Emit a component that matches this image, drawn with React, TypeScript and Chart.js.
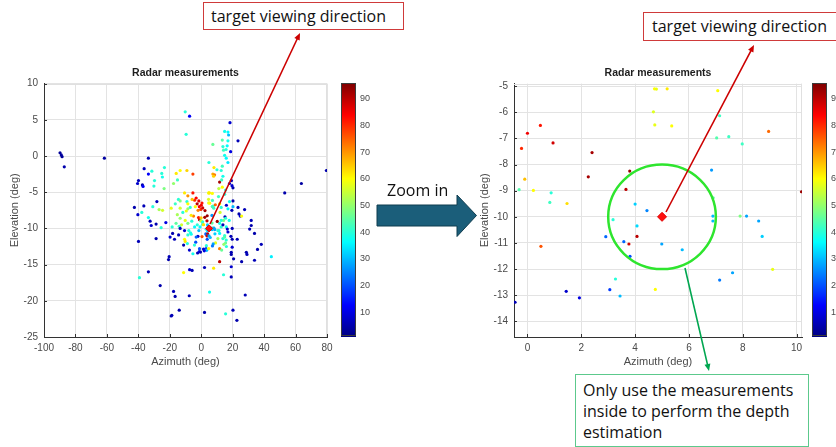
import React, { useEffect, useRef } from "react";
import { Chart, registerables } from "chart.js";
Chart.register(...registerables);

// ---------- data: [azimuth (deg), elevation (deg), value] ----------
const CB_MIN = 0.8;
const CB_MAX = 95.6;
const cbTicks = [10, 20, 30, 40, 50, 60, 70, 80, 90];

const target = [5, -10];
const selectRadius = 2;

const farPts = [
  [-89.8, 0.45, 3], [-89.0, 0.15, 4], [-88.5, -0.1, 3], [-87.1, -1.5, 5], [-61.6, -0.3, 4],
  [53.1, -5.1, 5], [63.7, -3.8, 4], [79.6, -2.0, 5], [44.6, -13.9, 35],
];

const northPts = [
  [-10.2, 6.1, 40], [-7.4, 5.5, 12], [-9.6, 3.0, 40],
  [18.3, 4.6, 8], [14.9, 3.4, 38], [17.0, 3.3, 36], [17.4, 2.9, 30], [23.4, 2.1, 6], [13.4, 2.2, 44], [7.4, 1.6, 46],
  [17.0, 2.1, 38], [16.5, 1.4, 36], [15.8, 0.9, 40], [18.7, 0.6, 10], [13.8, 1.3, 40], [14.2, 0.8, 42],
  [14.9, 0.1, 38], [15.9, -0.3, 36], [17.0, -0.9, 34], [4.9, -0.9, 40], [13.4, -1.4, 42], [10.0, -1.9, 40],
  [8.1, -1.6, 62], [7.4, -2.5, 68], [8.5, -2.6, 72], [7.9, -2.8, 64], [12.7, -2.0, 40], [13.8, -2.8, 38],
  [11.7, -3.6, 92], [13.0, -3.3, 42], [18.0, -3.8, 8], [19.2, -3.4, 6], [20.2, -4.4, 5], [19.6, -4.1, 8],
  [13.4, -4.3, 60], [15.5, -4.7, 40], [11.2, -4.5, 54],
  [-33.6, -0.3, 5], [-36.3, -1.75, 6], [-33.6, -2.5, 12], [-31.4, -2.1, 40], [-39.9, -3.4, 6], [-40.5, -3.8, 8],
  [-37.4, -4.0, 5], [-37.0, -4.2, 12], [-29.7, -3.4, 40], [-30.1, -4.15, 40], [-25.1, -2.4, 40], [-24.7, -2.9, 38],
  [-23.4, -1.6, 40], [-23.6, -4.5, 48], [-17.6, -3.8, 50], [-15.1, -3.3, 42], [-15.9, -2.4, 62], [-13.4, -2.0, 60],
  [-9.1, -2.0, 64], [-5.3, -2.5, 78],
];

const westPts = [
  [-10.6, -5.1, 62], [-8.5, -5.5, 70], [-5.3, -5.1, 82], [-14.5, -6.0, 40], [-13.4, -6.2, 48], [-9.1, -6.3, 40],
  [-3.2, -5.8, 84], [-1.5, -6.2, 86], [-4.2, -6.1, 80], [-2.6, -6.6, 90], [-1.2, -7.0, 84], [-3.8, -7.0, 60],
  [-42.5, -7.1, 5], [-36.5, -6.9, 6], [-40.3, -8.1, 8], [-37.8, -7.8, 40], [-28.2, -6.3, 6], [-30.8, -7.0, 40],
  [-33.6, -8.5, 38], [-32.5, -9.0, 6], [-31.8, -9.6, 8], [-28.7, -9.4, 5], [-25.5, -9.9, 40], [-22.5, -9.2, 10],
  [-26.8, -7.4, 52], [-24.6, -7.5, 56], [-19.1, -7.2, 58], [-13.4, -7.2, 56], [-16.5, -6.6, 42], [-11.7, -7.8, 40],
  [-7.0, -7.1, 40], [-8.5, -6.6, 60],
  [-13.4, -8.6, 50], [-10.2, -8.9, 58], [-8.5, -9.3, 48], [-12.5, -9.5, 56], [-14.0, -9.7, 42], [-6.0, -9.0, 40],
  [-4.9, -8.3, 72], [-1.7, -8.5, 82], [-1.1, -8.8, 88], [-2.5, -9.5, 40], [-4.2, -9.8, 36],
  [-13.4, -10.0, 6], [-10.6, -10.3, 8], [-7.9, -10.3, 40], [-6.4, -10.8, 38], [-17.0, -11.5, 6], [-19.8, -11.2, 8],
  [-18.2, -10.7, 5], [-14.4, -10.9, 6], [-28.7, -11.4, 5], [-39.9, -11.8, 6],
  [-10.6, -11.5, 60], [-10.2, -11.8, 62], [-8.8, -12.1, 40], [-11.2, -12.3, 5], [-5.3, -13.5, 38], [-2.3, -13.4, 6],
  [-1.2, -13.2, 10], [-3.5, -11.9, 20], [-2.1, -11.1, 8], [-7.5, -13.0, 8],
  [-20.4, -13.9, 6], [-20.8, -14.3, 5], [-33.6, -16.0, 6], [-39.3, -16.8, 40], [-26.1, -17.9, 5], [-17.6, -18.7, 6],
  [-16.6, -19.4, 5], [-7.6, -19.3, 6], [-14.0, -21.3, 5], [-19.1, -22.1, 5], [-18.7, -22.0, 6], [-11.2, -16.1, 60],
  [-7.4, -15.7, 8], [-5.8, -15.8, 6],
  [-8.5, -7.3, 50], [-6.4, -8.2, 62], [-3.2, -11.2, 22], [-4.3, -12.3, 40], [-1.1, -12.8, 20], [-8.5, -10.9, 40],
  [-6.8, -10.6, 38], [-16.0, -9.3, 45], [-18.5, -9.8, 40], [-15.2, -8.1, 52], [-9.5, -7.6, 58], [-5.8, -6.0, 66],
  [-2.0, -7.5, 72], [-0.8, -9.8, 36], [-1.5, -10.3, 30],
];

const eastPts = [
  [20.2, -6.2, 5], [18.0, -6.3, 38], [14.9, -5.3, 40], [11.7, -6.6, 62], [12.7, -7.1, 40], [17.0, -7.3, 36],
  [20.2, -7.0, 30], [19.5, -7.5, 6], [23.4, -7.1, 5], [27.6, -7.4, 6], [24.0, -8.0, 5], [24.8, -8.3, 8],
  [25.7, -8.3, 60], [15.1, -8.4, 6], [17.8, -8.9, 38], [15.5, -8.6, 40], [14.2, -8.9, 48], [15.9, -9.8, 38],
  [19.7, -10.0, 6], [31.8, -8.9, 6], [31.8, -9.6, 5], [30.8, -10.1, 6], [33.9, -10.7, 5], [38.2, -12.2, 6],
  [35.8, -12.9, 5], [33.9, -14.4, 6], [28.7, -13.3, 5], [29.1, -13.6, 6], [25.7, -14.6, 5], [22.9, -11.5, 6],
  [19.7, -11.5, 5], [19.7, -12.6, 8], [20.6, -14.2, 5], [19.1, -13.3, 6], [19.1, -13.6, 5], [13.8, -11.4, 40],
  [10.6, -11.4, 52], [15.5, -12.0, 46], [14.4, -12.2, 50], [11.7, -12.8, 72], [11.7, -14.6, 90], [12.7, -9.8, 40],
  [13.8, -9.5, 6], [11.3, -10.3, 38], [16.6, -10.1, 8], [18.9, -11.1, 6], [14.9, -11.0, 40], [12.0, -7.8, 56],
  [11.0, -5.6, 42], [16.0, -6.8, 8],
  [12.7, -8.9, 40], [11.7, -9.3, 38], [10.6, -10.3, 40], [11.7, -10.7, 36], [14.9, -11.2, 44], [15.9, -11.6, 40],
  [17.0, -10.5, 8], [16.0, -12.5, 40], [13.0, -13.0, 46],
];

const southPts = [
  [7.9, -15.5, 62], [2.1, -15.4, 6], [5.3, -18.8, 38], [28.0, -19.2, 6], [2.1, -21.6, 5], [15.5, -21.8, 40],
  [20.2, -21.3, 6], [22.7, -22.7, 5], [19.1, -15.3, 8], [19.1, -16.7, 6], [14.2, -16.4, 40],
];

// points inside the zoomed window
const zoomPts = [
  [4.72, -5.10, 60], [4.79, -5.11, 58], [5.19, -5.10, 62], [7.07, -5.17, 60], [4.68, -5.98, 57], [4.73, -6.48, 58],
  [5.36, -6.52, 60], [7.14, -6.13, 42], [7.03, -6.98, 44], [7.48, -6.93, 42], [7.98, -7.21, 42], [8.96, -6.73, 74],
  [0.48, -6.50, 82], [0.00, -6.80, 85], [-0.22, -7.38, 80], [0.95, -7.17, 88], [2.40, -7.54, 92], [2.26, -8.47, 92],
  [3.80, -8.25, 93], [3.66, -8.95, 90], [-0.10, -8.56, 66], [-0.31, -8.96, 44], [0.22, -8.99, 60], [0.88, -9.08, 40],
  [0.83, -9.45, 42], [1.47, -9.49, 63], [0.50, -11.13, 76], [4.00, -9.51, 32], [4.44, -9.76, 25], [3.18, -10.11, 40],
  [4.07, -10.35, 33], [2.91, -10.76, 22], [4.07, -10.75, 90], [3.58, -10.95, 22], [3.77, -11.04, 88], [3.81, -11.51, 20],
  [4.99, -11.04, 28], [5.75, -11.26, 30], [6.84, -8.21, 27], [6.90, -9.27, 45], [6.89, -9.97, 30], [6.89, -10.16, 30],
  [7.90, -9.97, 48], [8.14, -9.97, 28], [8.59, -10.16, 28], [8.72, -10.75, 32], [10.18, -9.04, 93], [9.11, -12.01, 58],
  [7.62, -12.14, 28], [7.14, -12.42, 24], [3.27, -12.38, 40], [3.06, -12.79, 18], [3.44, -13.03, 30], [1.44, -12.85, 8],
  [1.93, -13.10, 10], [-0.46, -13.27, 6], [4.75, -12.78, 60],
];

const allPts = [...farPts, ...northPts, ...westPts, ...eastPts, ...southPts, ...zoomPts];

// ---------- helpers ----------
const FONT = "'Liberation Sans', Arial, Helvetica, sans-serif";
const ANNOT_FONT = "'Open Sans', 'Noto Sans', sans-serif";

function jet(v: number): string {
  const t = Math.min(1, Math.max(0, (v - CB_MIN) / (CB_MAX - CB_MIN)));
  const f = (c: number) => Math.round(255 * Math.min(1, Math.max(0, 1.5 - Math.abs(4 * t - c))));
  return `rgb(${f(3)},${f(2)},${f(1)})`;
}

const colorbarPlugin = {
  id: "colorbar",
  afterDraw(chart: any, _a: any, opts: any) {
    const s = chart.scales.cb;
    if (!s) return;
    const ctx = chart.ctx;
    const x0 = Math.round(chart.chartArea.right + opts.gap);
    ctx.save();
    for (let y = Math.floor(s.top); y < s.bottom; y++) {
      ctx.fillStyle = jet(s.getValueForPixel(y + 0.5));
      ctx.fillRect(x0, y, opts.width, 1);
    }
    ctx.strokeStyle = "#3c3c3c";
    ctx.lineWidth = 1;
    ctx.strokeRect(x0 + 0.5, Math.floor(s.top) + 0.5, opts.width - 1, Math.round(s.bottom - s.top) - 1);
    ctx.restore();
  },
};

const framePlugin = {
  id: "frame",
  beforeDatasetsDraw(chart: any) {
    const { ctx, chartArea: a } = chart;
    ctx.save();
    ctx.strokeStyle = "#e0e0e0";
    ctx.lineWidth = 1;
    ctx.beginPath();
    ctx.moveTo(a.left, Math.round(a.top) + 0.5);
    ctx.lineTo(a.right, Math.round(a.top) + 0.5);
    ctx.moveTo(Math.round(a.right) - 0.5, a.top);
    ctx.lineTo(Math.round(a.right) - 0.5, a.bottom);
    ctx.stroke();
    // inward tick marks on left and bottom axes
    ctx.strokeStyle = "#333";
    ctx.beginPath();
    chart.scales.x.ticks.forEach((t: any) => {
      const px = Math.round(chart.scales.x.getPixelForValue(t.value)) + 0.5;
      ctx.moveTo(px, a.bottom);
      ctx.lineTo(px, a.bottom - 3);
    });
    chart.scales.y.ticks.forEach((t: any) => {
      const py = Math.round(chart.scales.y.getPixelForValue(t.value)) + 0.5;
      ctx.moveTo(a.left, py);
      ctx.lineTo(a.left + 3, py);
    });
    ctx.stroke();
    ctx.restore();
  },
};

const circlePlugin = {
  id: "circle",
  afterDatasetsDraw(chart: any, _a: any, o: any) {
    if (!o || !o.r) return;
    const { x, y } = chart.scales;
    const ctx = chart.ctx;
    const cx = x.getPixelForValue(o.cx);
    const cy = y.getPixelForValue(o.cy);
    const rx = Math.abs(x.getPixelForValue(o.cx + o.r) - cx);
    const ry = Math.abs(y.getPixelForValue(o.cy + o.r) - cy);
    ctx.save();
    ctx.beginPath();
    ctx.ellipse(cx, cy, rx, ry, 0, 0, Math.PI * 2);
    ctx.strokeStyle = o.color;
    ctx.lineWidth = o.width;
    ctx.stroke();
    ctx.restore();
  },
};

type Cfg = {
  xMin: number; xMax: number; xStep: number;
  yMin: number; yMax: number; yStep: number;
  width: number; cbAxisWidth: number; cbGap: number; cbPad: number;
  markerRadius: number; circle: boolean;
};

function makeConfig(c: Cfg): any {
  const tickFont = { family: FONT, size: 10 };
  return {
    type: "scatter",
    data: {
      datasets: [
        {
          data: [{ x: target[0], y: target[1] }],
          pointStyle: "rectRot",
          pointRadius: c.markerRadius,
          pointBackgroundColor: "#ff1010",
          pointBorderColor: "#e00000",
          pointBorderWidth: 1,
          clip: 0,
        },
        {
          data: allPts.map((p) => ({ x: p[0], y: p[1] })),
          pointRadius: 1.6,
          pointBorderWidth: 0,
          pointBackgroundColor: allPts.map((p) => jet(p[2])),
          clip: 0,
        },
      ],
    },
    options: {
      animation: false,
      responsive: false,
      events: [],
      devicePixelRatio: 1,
      layout: { padding: 0, autoPadding: false },
      plugins: {
        legend: { display: false },
        tooltip: { enabled: false },
        title: {
          display: true,
          fullSize: false,
          text: "Radar measurements",
          color: "#1e1e1e",
          font: { family: FONT, size: 10.5, weight: "bold" },
          padding: { top: 7, bottom: 4 },
        },
        colorbar: { gap: c.cbGap, width: 15 },
        circle: c.circle ? { cx: target[0], cy: target[1], r: selectRadius, color: "#2ee52e", width: 2.5 } : null,
      },
      scales: {
        x: {
          type: "linear",
          min: c.xMin,
          max: c.xMax,
          ticks: { stepSize: c.xStep, includeBounds: false, padding: 5, color: "#4a4a4a", font: tickFont, maxRotation: 0 },
          grid: { color: "#e3e3e3", drawTicks: false },
          border: { display: true, color: "#333", width: 1 },
          title: { display: true, text: "Azimuth (deg)", color: "#4a4a4a", font: { family: FONT, size: 11 }, padding: { top: 0, bottom: 3 } },
          afterFit: (s: any) => { s.height = 35; },
        },
        y: {
          type: "linear",
          min: c.yMin,
          max: c.yMax,
          ticks: { stepSize: c.yStep, includeBounds: false, padding: 6, color: "#4a4a4a", font: tickFont },
          grid: { color: "#e3e3e3", drawTicks: false },
          border: { display: true, color: "#333", width: 1 },
          title: { display: true, text: "Elevation (deg)", color: "#4a4a4a", font: { family: FONT, size: 11 }, padding: { top: 8, bottom: 0 } },
          afterFit: (s: any) => { s.width = 44; },
        },
        cb: {
          type: "linear",
          position: "right",
          min: CB_MIN,
          max: CB_MAX,
          afterBuildTicks: (s: any) => { s.ticks = cbTicks.map((v) => ({ value: v })); },
          ticks: { padding: 0, color: "#4a4a4a", font: { family: FONT, size: 9 } },
          grid: { display: false, drawTicks: true, tickLength: c.cbPad, drawOnChartArea: false },
          border: { display: false },
          afterFit: (s: any) => { s.width = c.cbAxisWidth; s.paddingTop = 0; s.paddingBottom = 0; },
        },
      },
    },
    plugins: [framePlugin, colorbarPlugin, circlePlugin],
  };
}

function ScatterPanel(props: { cfg: Cfg; left: number; top: number; height: number }) {
  const ref = useRef<HTMLCanvasElement>(null);
  useEffect(() => {
    if (!ref.current) return;
    const chart = new Chart(ref.current, makeConfig(props.cfg));
    return () => chart.destroy();
  }, []);
  return (
    <canvas
      ref={ref}
      width={props.cfg.width}
      height={props.height}
      style={{ position: "absolute", left: props.left, top: props.top, width: props.cfg.width, height: props.height }}
    />
  );
}

function arrowHead(x1: number, y1: number, x2: number, y2: number, len: number, half: number) {
  const dx = x2 - x1, dy = y2 - y1;
  const d = Math.hypot(dx, dy);
  const ux = dx / d, uy = dy / d;
  const bx = x2 - ux * len, by = y2 - uy * len;
  return `${x2},${y2} ${bx - uy * half},${by + ux * half} ${bx + uy * half},${by - ux * half}`;
}

function Arrow(p: { x1: number; y1: number; x2: number; y2: number; color: string; w: number }) {
  const d = Math.hypot(p.x2 - p.x1, p.y2 - p.y1);
  const ex = p.x2 - ((p.x2 - p.x1) / d) * 5;
  const ey = p.y2 - ((p.y2 - p.y1) / d) * 5;
  return (
    <g>
      <line x1={p.x1} y1={p.y1} x2={ex} y2={ey} stroke={p.color} strokeWidth={p.w} />
      <polygon points={arrowHead(p.x1, p.y1, p.x2, p.y2, 7, 3)} fill={p.color} />
    </g>
  );
}

const leftCfg: Cfg = {
  xMin: -100, xMax: 80, xStep: 20, yMin: -25, yMax: 10, yStep: 5,
  width: 380, cbAxisWidth: 53, cbGap: 14, cbPad: 33, markerRadius: 3.5, circle: false,
};
const rightCfg: Cfg = {
  xMin: -0.5, xMax: 10.2, xStep: 2, yMin: -14.6, yMax: -4.9, yStep: 1,
  width: 366, cbAxisWidth: 34, cbGap: 10, cbPad: 29, markerRadius: 4.5, circle: true,
};

const boxText: React.CSSProperties = {
  position: "absolute",
  boxSizing: "border-box",
  fontFamily: ANNOT_FONT,
  color: "#111",
  background: "#fff",
  whiteSpace: "nowrap",
};

export default function App() {
  return (
    <div style={{ position: "fixed", left: 0, top: 0, width: 836, height: 447, overflow: "hidden", background: "#fff" }}>
      <ScatterPanel cfg={leftCfg} left={0} top={60} height={312} />
      <ScatterPanel cfg={rightCfg} left={470} top={60} height={312} />
      <svg width={836} height={447} style={{ position: "absolute", left: 0, top: 0, pointerEvents: "none" }}>
        <Arrow x1={210} y1={224} x2={300} y2={33} color="#cc0000" w={1.6} />
        <Arrow x1={666} y1={212} x2={754} y2={45} color="#cc0000" w={1.6} />
        <Arrow x1={685} y1={268} x2={709} y2={371} color="#00a650" w={1.6} />
        <polygon
          points="377,205 457,205 457,195 476.5,215.5 457,236.5 457,226 377,226"
          fill="#1b5e7a"
          stroke="#0f3c4e"
          strokeWidth={1}
        />
        <text x={387} y={196} fontFamily={ANNOT_FONT} fontSize={16} fill="#111">Zoom in</text>
      </svg>
      <div style={{ ...boxText, left: 203, top: 2, width: 201, height: 28, border: "1px solid #cf3a3a", fontSize: 16, lineHeight: "26px", paddingLeft: 7 }}>
        target viewing direction
      </div>
      <div style={{ ...boxText, left: 643, top: 12, width: 200, height: 29, border: "1px solid #cf3a3a", fontSize: 16, lineHeight: "27px", paddingLeft: 8 }}>
        target viewing direction
      </div>
      <div style={{ ...boxText, left: 575, top: 374, width: 234, height: 73, border: "1.5px solid #5cc98c", fontSize: 16, lineHeight: "20.8px", padding: "5px 0 0 7px", whiteSpace: "normal" }}>
        Only use the measurements<br />inside to perform the depth<br />estimation
      </div>
    </div>
  );
}
